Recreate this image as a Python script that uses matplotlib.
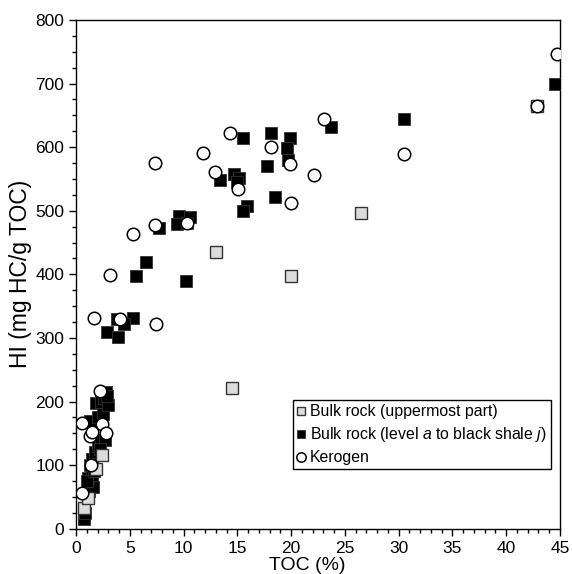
import matplotlib
matplotlib.use("Agg")
import matplotlib.pyplot as plt
from matplotlib.ticker import MultipleLocator

plt.rcParams['font.family'] = ['Liberation Sans', 'DejaVu Sans']
plt.rcParams['mathtext.fontset'] = 'custom'
plt.rcParams['mathtext.it'] = 'Liberation Sans:italic'
plt.rcParams['mathtext.rm'] = 'Liberation Sans'

# Bulk rock (uppermost part) - grey squares
grey_toc = [42.9, 26.5, 20.0, 13.0, 14.5, 0.7, 1.1, 1.9, 2.4]
grey_hi = [664, 497, 397, 435, 221, 32, 48, 94, 116]

# Bulk rock (level a to black shale j) - black squares
black_toc = [44.5, 30.5, 23.7, 18.1, 19.9, 15.5, 19.6, 19.7, 17.8, 14.7, 15.2, 15.0,
             13.4, 18.5, 15.9, 15.5, 9.6, 10.6, 9.4, 10.3, 7.7, 6.5, 5.6, 10.2,
             5.3, 3.8, 4.5, 2.9, 3.9,
             0.7, 0.8, 1.2, 1.3, 1.6, 1.1, 1.5, 1.3, 1.5, 1.8, 2.0, 2.3, 2.7,
             1.3, 2.0, 1.9, 2.5, 2.3, 2.6, 2.8, 3.0, 2.9, 1.0, 1.7, 2.2]
black_hi = [700, 645, 631, 623, 615, 614, 598, 580, 570, 558, 552, 545,
            548, 521, 508, 499, 492, 490, 479, 481, 473, 420, 397, 389,
            331, 329, 322, 309, 302,
            15, 25, 60, 70, 65, 80, 85, 100, 110, 120, 130, 140, 140,
            170, 175, 198, 180, 200, 205, 215, 195, 208, 75, 90, 125]

# Kerogen - open circles
ker_toc = [44.7, 42.9, 30.5, 23.1, 22.1, 18.1, 19.9, 20.0, 15.1, 14.3, 12.9, 11.8,
           7.3, 7.3, 10.3, 7.4, 5.3, 3.2, 4.1, 1.7,
           0.55, 1.3, 1.5, 2.4, 2.25, 2.8, 1.4, 0.6]
ker_hi = [747, 664, 589, 645, 556, 600, 574, 512, 534, 623, 561, 591,
          575, 478, 480, 322, 464, 399, 330, 332,
          166, 145, 152, 164, 216, 150, 100, 56]

x_ticks = [0, 5, 10, 15, 20, 25, 30, 35, 40, 45]
y_ticks = [0, 100, 200, 300, 400, 500, 600, 700, 800]

fig = plt.figure(figsize=(5.72, 5.74), dpi=100)
ax = fig.add_axes([76/572, 1-528.7/574, (560-76)/572, (528.7-20)/574])

ms = 8.3
ax.plot(black_toc, black_hi, linestyle='none', marker='s', markersize=ms,
        markerfacecolor='black', markeredgecolor='#333333', markeredgewidth=0.6,
        label=r'Bulk rock (level $\it{a}$ to black shale $\it{j}$)', zorder=3)
ax.plot(grey_toc, grey_hi, linestyle='none', marker='s', markersize=ms,
        markerfacecolor='#dcdcdc', markeredgecolor='#333333', markeredgewidth=1.0,
        label='Bulk rock (uppermost part)', zorder=4)
ax.plot(ker_toc, ker_hi, linestyle='none', marker='o', markersize=9.0,
        markerfacecolor='white', markeredgecolor='black', markeredgewidth=1.1,
        label='Kerogen', zorder=5)

ax.set_xlim(0, 45)
ax.set_ylim(0, 800)
ax.set_xticks(x_ticks)
ax.set_yticks(y_ticks)
ax.xaxis.set_minor_locator(MultipleLocator(1))
ax.yaxis.set_minor_locator(MultipleLocator(25))
ax.tick_params(which='major', direction='out', length=5, width=1, labelsize=12.5, top=False, right=False)
ax.tick_params(which='minor', direction='out', length=3, width=1, top=False, right=False)
for s in ax.spines.values():
    s.set_linewidth(1.0)

ax.set_xlabel('TOC (%)', fontsize=14, labelpad=1)
ax.xaxis.set_label_coords(0.477, -0.035, transform=None) if False else None
ax.xaxis.label.set_position((0.477, 0))
ax.set_ylabel('HI (mg HC/g TOC)', fontsize=16.5, labelpad=2)

handles, labels = ax.get_legend_handles_labels()
order = [1, 0, 2]
leg = ax.legend([handles[i] for i in order], [labels[i] for i in order],
                loc='lower left', bbox_to_anchor=(0.448, 0.117),
                fontsize=11.4, frameon=True, fancybox=False,
                edgecolor='black', framealpha=1, borderpad=0.25,
                handlelength=0.5, handletextpad=0.35, labelspacing=0.38,
                markerscale=0.75, borderaxespad=0)
leg.get_frame().set_linewidth(1.0)

fig.savefig('out.png', dpi=100)
